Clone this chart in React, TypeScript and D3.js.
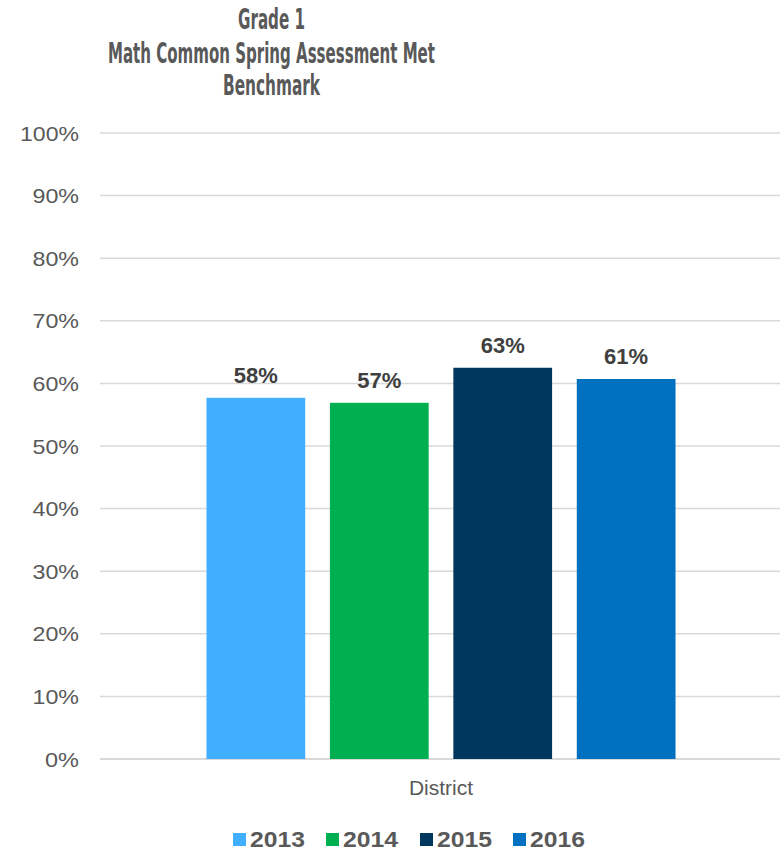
import React from 'react';
import * as d3 from 'd3';

const titleLines = ['Grade 1', 'Math Common Spring Assessment Met', 'Benchmark'];
const categories = ['District'];
const years = ['2013', '2014', '2015', '2016'];
const values = [0.577, 0.569, 0.625, 0.607];
const labels = ['58%', '57%', '63%', '61%'];
const colors = ['#41AEFF', '#00B050', '#00375F', '#0070C0'];
const yTicks = [0, 0.1, 0.2, 0.3, 0.4, 0.5, 0.6, 0.7, 0.8, 0.9, 1.0];

const W = 782;
const H = 852;
const FONT = '"Liberation Sans", Arial, sans-serif';
const NARROW = '"Liberation Sans Narrow", "DejaVu Sans Condensed", sans-serif';

export default function App() {
  const y = d3.scaleLinear().domain([0, 1]).range([759, 133]);
  const x0 = d3.scaleBand<string>().domain(categories).range([100, 782]).paddingInner(0).paddingOuter(0.227);
  const x1 = d3.scaleBand<string>().domain(years).range([0, x0.bandwidth()]).paddingInner(0.2).paddingOuter(0);
  const fmt = d3.format('.0%');
  const titleWidths = [67, 327, 97];
  const titleY = [29, 63, 95];

  const legendX = [233, 326, 420, 513];

  return (
    <svg width={W} height={H} style={{ position: 'absolute', left: 0, top: 0, background: '#fff' }}>
      {titleLines.map((t, i) => (
        <text key={t} x={271.5} y={titleY[i]} textAnchor="middle" fontFamily={NARROW} fontWeight="bold"
          fontSize={29} fill="#595959" textLength={titleWidths[i]} lengthAdjust="spacingAndGlyphs">{t}</text>
      ))}
      {yTicks.map((t) => (
        <g key={t}>
          <line x1={100} x2={780} y1={y(t)} y2={y(t)} stroke="#D9D9D9" strokeWidth={t === 0 ? 2 : 1.5} />
          <text x={79} y={y(t)} dy="0.36em" textAnchor="end" fontFamily={FONT} fontSize={21} fill="#595959"
            textLength={fmt(t).length * 12.5 + 9} lengthAdjust="spacingAndGlyphs">{fmt(t)}</text>
        </g>
      ))}
      {categories.map((c) => (
        <g key={c} transform={`translate(${x0(c)},0)`}>
          {years.map((yr, i) => (
            <g key={yr}>
              <rect x={x1(yr)} y={y(values[i])} width={x1.bandwidth()} height={y(0) - y(values[i])} fill={colors[i]} />
              <text x={(x1(yr) as number) + x1.bandwidth() / 2} y={y(values[i]) - 15} textAnchor="middle"
                fontFamily={FONT} fontWeight="bold" fontSize={22} fill="#404040">{labels[i]}</text>
            </g>
          ))}
          <text x={x0.bandwidth() / 2} y={795} textAnchor="middle" fontFamily={FONT} fontSize={21} fill="#595959">{c}</text>
        </g>
      ))}
      {years.map((yr, i) => (
        <g key={yr}>
          <rect x={legendX[i]} y={833} width={13} height={13} fill={colors[i]} />
          <text x={legendX[i] + 17} y={847} fontFamily={FONT} fontWeight="bold" fontSize={22} fill="#595959"
            textLength={55} lengthAdjust="spacingAndGlyphs">{yr}</text>
        </g>
      ))}
    </svg>
  );
}
